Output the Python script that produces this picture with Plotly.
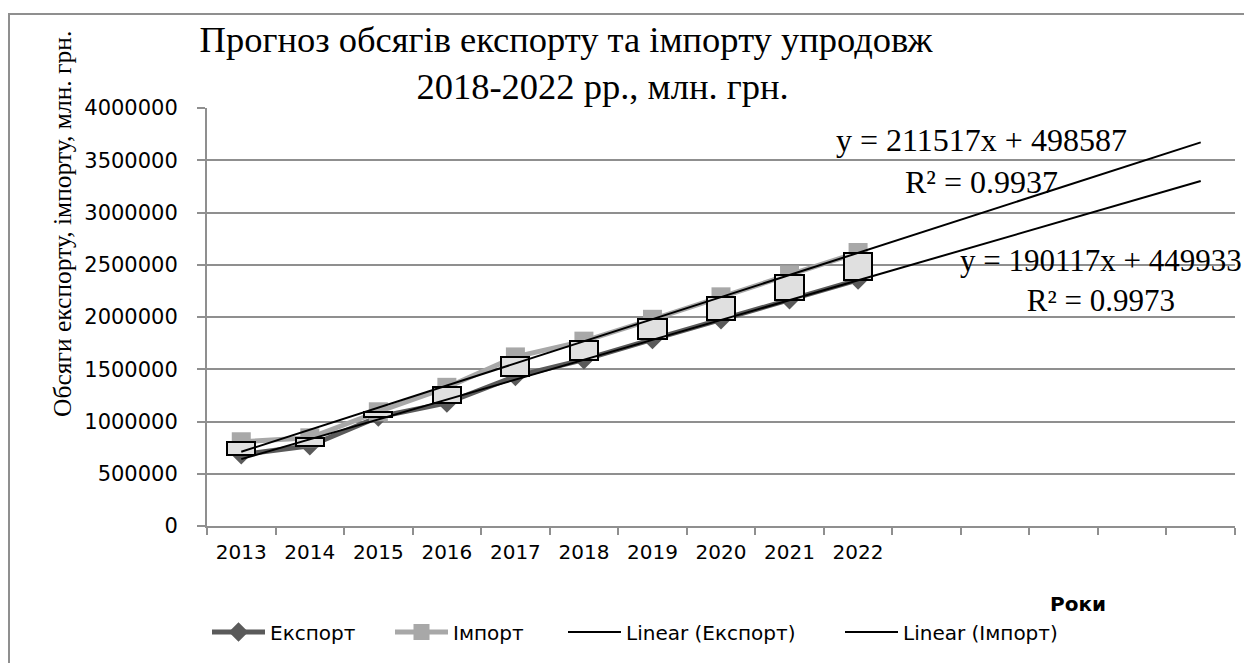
import plotly.graph_objects as go

# values (млн. грн.)
years = ['2013', '2014', '2015', '2016', '2017', '2018', '2019', '2020', '2021', '2022']
export_vals = [682000, 768000, 1043000, 1178000, 1431000, 1592000, 1785000, 1974000, 2164000, 2355000]
import_vals = [806000, 844000, 1093000, 1327000, 1618000, 1769000, 1978000, 2193000, 2402000, 2617000]

# trend line coefficients shown on the chart
export_slope, export_icpt, export_r2 = 190117, 449933, 0.9973
import_slope, import_icpt, import_r2 = 211517, 498587, 0.9937
n_periods = 15  # 10 years + 5 forecast periods

# page body has an 8px margin, so the figure is a bit smaller than the window
OFF = 8
W, H = 1252 - OFF, 671 - 2 * OFF
L, R, T, B = 207, 1235, 108, 530  # plot area, screen px


def px(x):
    return (x - L) / (R - L)


def py(y):
    return (B - y) / (B - T)


xs = list(range(1, len(years) + 1))
grid = '#8f8f8f'
serif = 'Liberation Serif'
sans = 'DejaVu Sans'

fig = go.Figure()

fig.add_trace(go.Scatter(x=xs, y=export_vals, name='Експорт', mode='lines+markers',
                         line=dict(color='#5a5a5a', width=5), legendwidth=115,
                         marker=dict(symbol='diamond', size=15, color='#5a5a5a')))
fig.add_trace(go.Scatter(x=xs, y=import_vals, name='Імпорт', mode='lines+markers',
                         line=dict(color='#a8a8a8', width=5), legendwidth=105,
                         marker=dict(symbol='square', size=19, color='#a8a8a8')))

# up/down bars between the two series
fig.add_trace(go.Bar(x=xs, y=[i - e for i, e in zip(import_vals, export_vals)], base=export_vals,
                     width=0.41, marker=dict(color='#e0e0e0', line=dict(color='black', width=2)),
                     showlegend=False, hoverinfo='skip', xaxis='x2', yaxis='y2'))

tx = [1, n_periods]
fig.add_trace(go.Scatter(x=tx, y=[export_slope * t + export_icpt for t in tx], name='Linear (Експорт)',
                         mode='lines', line=dict(color='black', width=2), legendwidth=209,
                         xaxis='x2', yaxis='y2'))
fig.add_trace(go.Scatter(x=tx, y=[import_slope * t + import_icpt for t in tx], name='Linear (Імпорт)',
                         mode='lines', line=dict(color='black', width=2), legendwidth=190,
                         xaxis='x2', yaxis='y2'))

xr = [0.5, n_periods + 0.5]
yr = [0, 4000000]

fig.update_layout(
    width=W, height=H,
    margin=dict(l=L - OFF, r=W - (R - OFF), t=T - OFF, b=H - (B - OFF)),
    paper_bgcolor='white', plot_bgcolor='white',
    title=dict(text='Прогноз обсягів експорту та імпорту упродовж<br>'
                    + '\u00a0' * 8 + '2018-2022 рр., млн. грн.',
               font=dict(family=serif, size=36.5, color='black'),
               x=(566 - OFF) / W, xref='container', xanchor='center',
               y=1 - 44 / H, yref='container', yanchor='middle'),
    xaxis=dict(range=xr, tickmode='array', tickvals=xs, ticktext=years, ticks='',
               showgrid=False, showline=True, linecolor=grid, linewidth=2, zeroline=False,
               tickfont=dict(family=sans, size=20, color='black'), ticklabelstandoff=7,
               minor=dict(tickmode='array', tickvals=[k + 0.5 for k in range(n_periods + 1)],
                          ticks='outside', ticklen=7, tickwidth=2, tickcolor=grid, showgrid=False)),
    yaxis=dict(range=yr, tickmode='array', tickvals=list(range(0, 4000001, 500000)), tickformat='d',
               ticks='outside', ticklen=8, tickwidth=2, tickcolor=grid,
               showgrid=True, gridcolor=grid, gridwidth=2, showline=True, linecolor=grid, linewidth=2,
               zeroline=False, tickfont=dict(family=sans, size=21, color='black'), ticklabelstandoff=15),
    xaxis2=dict(range=xr, overlaying='x', visible=False),
    yaxis2=dict(range=yr, overlaying='y', visible=False),
    legend=dict(orientation='h', x=px(207), xanchor='left', y=py(637), yanchor='middle',
                font=dict(family=sans, size=20, color='black'), itemwidth=53,
                bgcolor='rgba(0,0,0,0)'),
    showlegend=True,
    bargap=0,
)

fig.add_annotation(text='Обсяги експорту, імпорту, млн. грн.', textangle=-90,
                   x=px(63), y=py(225), xref='paper', yref='paper', showarrow=False,
                   xanchor='center', yanchor='middle',
                   font=dict(family=serif, size=25.5, color='black'))
fig.add_annotation(text='<b>Роки</b>', x=px(1078), y=py(609), xref='paper', yref='paper',
                   showarrow=False, xanchor='center', yanchor='middle',
                   font=dict(family=sans, size=20, color='black'))
fig.add_annotation(text='y = %dx + %d<br>R² = %.4f' % (import_slope, import_icpt, import_r2),
                   x=px(981), y=py(162), xref='paper', yref='paper', showarrow=False,
                   xanchor='center', yanchor='middle',
                   font=dict(family=serif, size=32, color='black'))
fig.add_annotation(text='y = %dx + %d<br>R² = %.4f' % (export_slope, export_icpt, export_r2),
                   x=px(1101), y=py(282), xref='paper', yref='paper', showarrow=False,
                   xanchor='center', yanchor='middle',
                   font=dict(family=serif, size=31, color='black'))

# chart border (only the left and top edges fall inside the picture)
fig.add_shape(type='rect', xref='paper', yref='paper', x0=px(9), y0=py(13), x1=px(1270), y1=py(690),
              line=dict(color=grid, width=2), fillcolor='rgba(0,0,0,0)', layer='below')

fig.write_html('out.html')
